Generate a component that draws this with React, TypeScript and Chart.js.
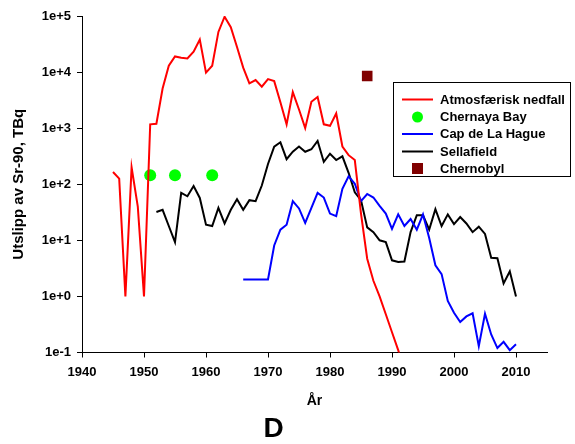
import React, { useEffect, useRef } from 'react';
import { Chart, registerables } from 'chart.js';

Chart.register(...registerables);

const FONT = '"Liberation Sans", Arial, sans-serif';

// Atmosfærisk nedfall
const atmYears = [1945, 1946, 1947, 1948, 1949, 1950, 1951, 1952, 1953, 1954, 1955, 1956, 1957, 1958, 1959, 1960, 1961, 1962, 1963, 1964, 1965, 1966, 1967, 1968, 1969, 1970, 1971, 1972, 1973, 1974, 1975, 1976, 1977, 1978, 1979, 1980, 1981, 1982, 1983, 1984, 1985, 1986, 1987, 1988, 1989, 1990, 1991, 1992];
const atmValues = [165, 126, 1, 200, 40, 1, 1170, 1200, 5100, 13000, 19000, 18000, 17500, 23000, 38000, 9800, 13000, 52000, 97000, 63000, 28000, 12000, 6300, 7200, 5500, 7500, 6900, 2900, 1170, 4400, 2150, 1000, 2950, 3600, 1170, 1100, 1830, 470, 330, 270, 30, 4.7, 1.9, 1.0, 0.48, 0.23, 0.11, 0.05];

// Chernaya Bay
const chernayaYears = [1951, 1955, 1961];
const chernayaValues = [145, 145, 145];

// Cap de La Hague
const hagueYears = [1966, 1967, 1968, 1969, 1970, 1971, 1972, 1973, 1974, 1975, 1976, 1977, 1978, 1979, 1980, 1981, 1982, 1983, 1984, 1985, 1986, 1987, 1988, 1989, 1990, 1991, 1992, 1993, 1994, 1995, 1996, 1997, 1998, 1999, 2000, 2001, 2002, 2003, 2004, 2005, 2006, 2007, 2008, 2009, 2010];
const hagueValues = [2, 2, 2, 2, 2, 8.1, 15.5, 19, 50, 37, 20.5, 38, 70, 58, 30, 27, 83, 139, 102, 50, 67, 58, 41, 30, 16, 29, 18, 24, 15.5, 29, 11, 3.6, 2.5, 0.83, 0.51, 0.35, 0.44, 0.5, 0.13, 0.49, 0.21, 0.12, 0.155, 0.11, 0.14];

// Sellafield
const sellaYears = [1952, 1953, 1954, 1955, 1956, 1957, 1958, 1959, 1960, 1961, 1962, 1963, 1964, 1965, 1966, 1967, 1968, 1969, 1970, 1971, 1972, 1973, 1974, 1975, 1976, 1977, 1978, 1979, 1980, 1981, 1982, 1983, 1984, 1985, 1986, 1987, 1988, 1989, 1990, 1991, 1992, 1993, 1994, 1995, 1996, 1997, 1998, 1999, 2000, 2001, 2002, 2003, 2004, 2005, 2006, 2007, 2008, 2009, 2010];
const sellaValues = [32, 35, 18, 9.3, 70, 61, 93, 57, 19, 18, 38, 20, 35, 54, 35, 52, 50, 95, 230, 470, 560, 280, 380, 470, 380, 420, 590, 250, 350, 270, 315, 160, 72, 52, 17, 14, 10, 9.3, 4.4, 4.1, 4.2, 14, 28, 28, 15.5, 36, 18, 29, 19.5, 26, 20, 14, 17.5, 13, 4.9, 4.8, 1.7, 2.8, 1.0];

// Chernobyl
const chernobylYears = [1986];
const chernobylValues = [8500];

// Axis ticks
const xTickYears = [1940, 1950, 1960, 1970, 1980, 1990, 2000, 2010];
const yTickExponents = [-1, 0, 1, 2, 3, 4, 5];

const toPoints = (xs: number[], ys: number[]) => xs.map((x, i) => ({ x, y: ys[i] }));

const legendPlugin = {
  id: 'boxLegend',
  afterDraw(chart: any) {
    const ctx = chart.ctx as CanvasRenderingContext2D;
    const x0 = 393;
    const y0 = 82;
    const w = 177;
    const h = 94;
    ctx.save();
    ctx.fillStyle = '#ffffff';
    ctx.fillRect(x0, y0, w, h);
    ctx.strokeStyle = '#000000';
    ctx.lineWidth = 1;
    ctx.strokeRect(x0 + 0.5, y0 + 0.5, w, h);
    const rowY = [99.5, 117, 134, 151.5, 168.5];
    const symX0 = 402;
    const symX1 = 433;
    const symC = (symX0 + symX1) / 2;
    chart.data.datasets.forEach((ds: any, i: number) => {
      const y = rowY[i];
      if (ds.showLine === false) {
        ctx.fillStyle = ds.pointBackgroundColor;
        if (ds.pointStyle === 'rect') {
          ctx.fillRect(symC - 5.5, y - 5.5, 11, 11);
        } else {
          ctx.beginPath();
          ctx.arc(symC, y, 5.5, 0, Math.PI * 2);
          ctx.fill();
        }
      } else {
        ctx.strokeStyle = ds.borderColor;
        ctx.lineWidth = 2;
        ctx.beginPath();
        ctx.moveTo(symX0, y);
        ctx.lineTo(symX1, y);
        ctx.stroke();
      }
      ctx.fillStyle = '#000000';
      ctx.font = `bold 13px ${FONT}`;
      ctx.textBaseline = 'middle';
      ctx.textAlign = 'left';
      ctx.fillText(ds.label, 440, y + 0.5);
    });
    ctx.restore();
  },
};

export default function App() {
  const canvasRef = useRef<HTMLCanvasElement | null>(null);

  useEffect(() => {
    const canvas = canvasRef.current;
    if (!canvas) return;
    Chart.defaults.font.family = FONT;
    const chart = new Chart(canvas, {
      type: 'line',
      data: {
        datasets: [
          {
            label: 'Atmosfærisk nedfall',
            data: toPoints(atmYears, atmValues),
            borderColor: '#ff0000',
            backgroundColor: '#ff0000',
            borderWidth: 2,
            pointRadius: 0,
            tension: 0,
          },
          {
            label: 'Chernaya Bay',
            data: toPoints(chernayaYears, chernayaValues),
            showLine: false,
            pointRadius: 6,
            pointStyle: 'circle',
            pointBackgroundColor: '#00ff00',
            pointBorderColor: '#00ff00',
            pointBorderWidth: 0,
            borderColor: '#00ff00',
            backgroundColor: '#00ff00',
          },
          {
            label: 'Cap de La Hague',
            data: toPoints(hagueYears, hagueValues),
            borderColor: '#0000ff',
            backgroundColor: '#0000ff',
            borderWidth: 2,
            pointRadius: 0,
          },
          {
            label: 'Sellafield',
            data: toPoints(sellaYears, sellaValues),
            borderColor: '#000000',
            backgroundColor: '#000000',
            borderWidth: 2,
            pointRadius: 0,
          },
          {
            label: 'Chernobyl',
            data: toPoints(chernobylYears, chernobylValues),
            showLine: false,
            pointRadius: 7.5,
            pointStyle: 'rect',
            pointBackgroundColor: '#800000',
            pointBorderColor: '#800000',
            pointBorderWidth: 0,
            borderColor: '#800000',
            backgroundColor: '#800000',
          },
        ],
      },
      options: {
        responsive: false,
        animation: false,
        layout: { padding: { top: 16, right: 28, left: 0, bottom: 0 } },
        plugins: {
          legend: { display: false },
          tooltip: { enabled: false },
          title: {
            display: true,
            text: 'D',
            position: 'bottom',
            color: '#000000',
            font: { size: 28, weight: 'bold', family: FONT },
            padding: { top: 0, bottom: -2 },
          },
        },
        scales: {
          x: {
            type: 'linear',
            min: 1940,
            max: 2015,
            afterBuildTicks: (scale: any) => {
              scale.ticks = xTickYears.map((v) => ({ value: v }));
            },
            afterFit: (scale: any) => {
              scale.height = 59.9;
            },
            ticks: {
              color: '#000000',
              font: { size: 13, weight: 'bold', family: FONT },
              padding: 7,
              maxRotation: 0,
              autoSkip: false,
              callback: (v: any) => String(v),
            },
            grid: { drawOnChartArea: false, drawTicks: true, tickLength: 5, color: '#000000' },
            border: { display: true, color: '#000000', width: 1 },
            title: {
              display: true,
              text: 'År',
              color: '#000000',
              font: { size: 14, weight: 'bold', family: FONT },
              padding: { top: 0, bottom: 3 },
            },
          },
          y: {
            type: 'logarithmic',
            min: 0.1,
            max: 100000,
            afterBuildTicks: (scale: any) => {
              scale.ticks = yTickExponents.map((e) => ({ value: Math.pow(10, e) }));
            },
            afterFit: (scale: any) => {
              scale.width = 82;
            },
            ticks: {
              color: '#000000',
              font: { size: 13, weight: 'bold', family: FONT },
              padding: 6,
              autoSkip: false,
              callback: (v: any) => {
                const e = Math.round(Math.log10(Number(v)));
                return `1e${e >= 0 ? '+' : ''}${e}`;
              },
            },
            grid: { drawOnChartArea: false, drawTicks: true, tickLength: 5, color: '#000000' },
            border: { display: true, color: '#000000', width: 1 },
            title: {
              display: true,
              text: 'Utslipp av Sr-90, TBq',
              color: '#000000',
              font: { size: 15, weight: 'bold', family: FONT },
              padding: { top: 10, bottom: 0 },
            },
          },
        },
      },
      plugins: [legendPlugin],
    } as any);
    return () => chart.destroy();
  }, []);

  return (
    <div style={{ position: 'fixed', left: 0, top: 0, width: 575, height: 444, background: '#ffffff' }}>
      <canvas ref={canvasRef} width={575} height={444} style={{ width: 575, height: 444, display: 'block' }} />
    </div>
  );
}
